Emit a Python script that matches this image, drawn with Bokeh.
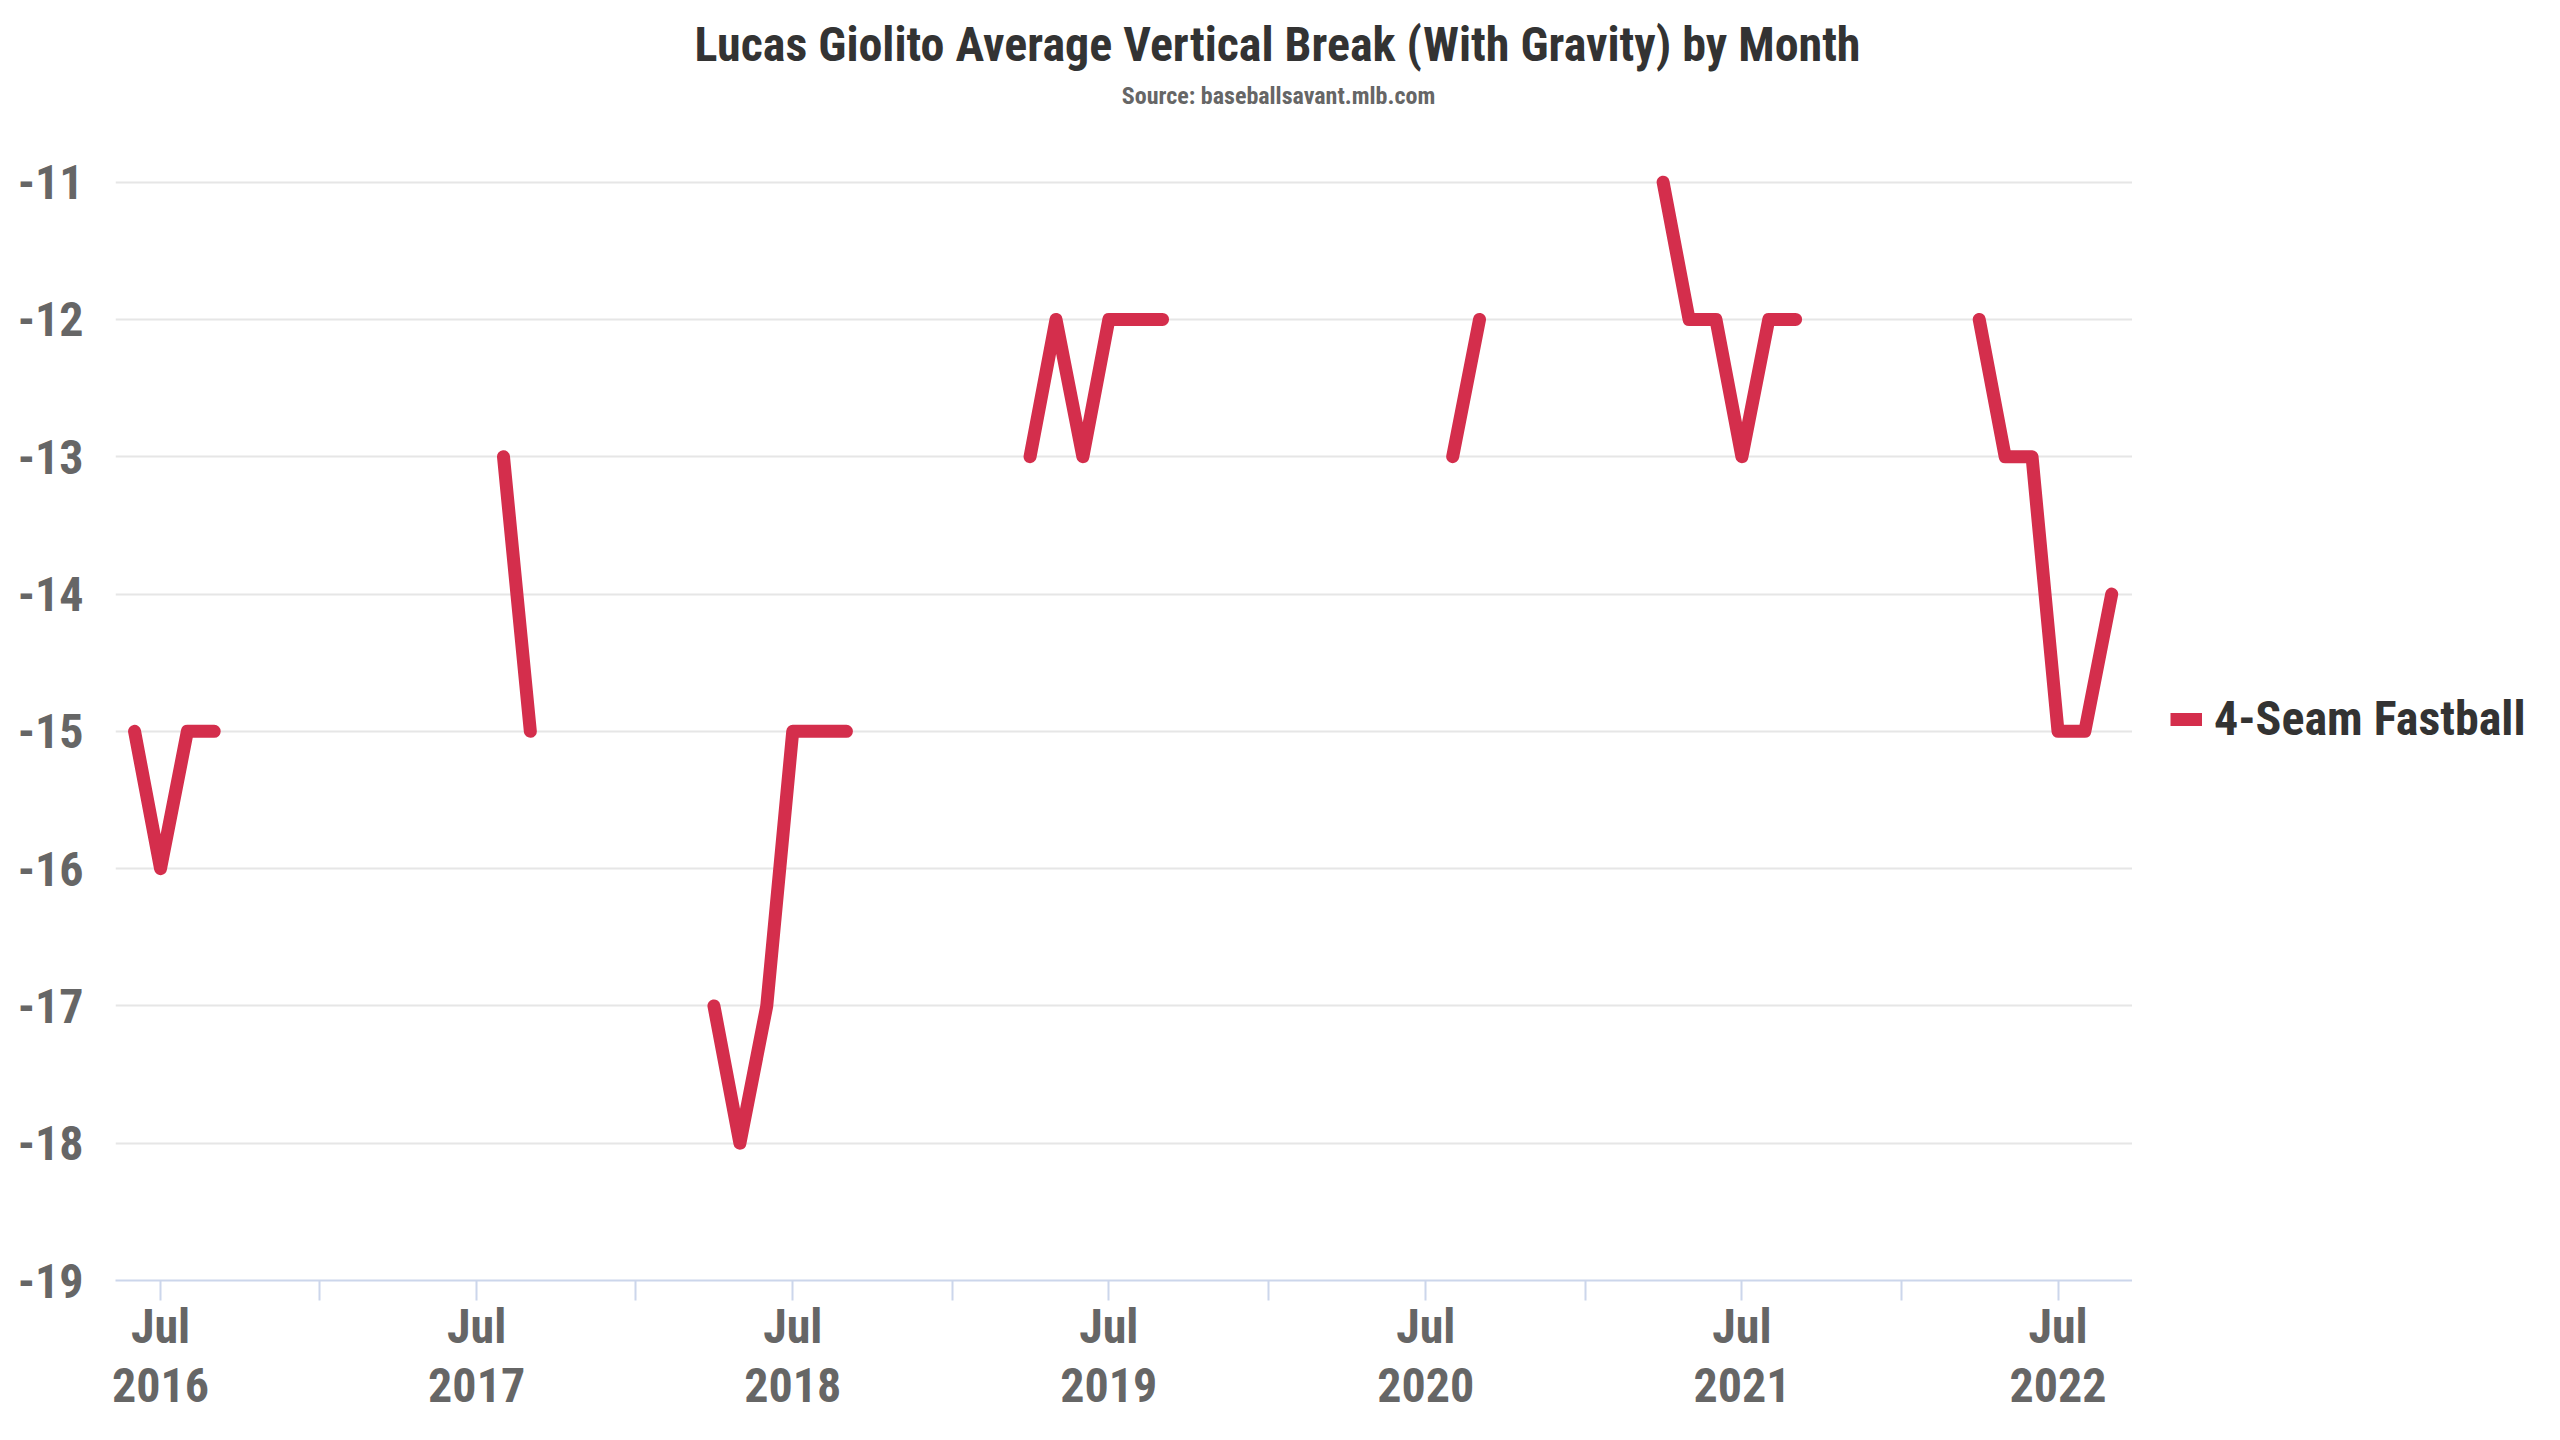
from datetime import datetime

from bokeh.plotting import figure
from bokeh.layouts import row
from bokeh.models import (ColumnDataSource, Range1d, FixedTicker, Label, Legend,
                          LegendItem, DatetimeAxis)
from bokeh.embed import file_html
from bokeh.resources import INLINE

# ---------------- data ----------------
TITLE = "Lucas Giolito Average Vertical Break (With Gravity) by Month"
SUBTITLE = "Source: baseballsavant.mlb.com"
SERIES_NAME = "4-Seam Fastball"

months_2016 = ["2016-06", "2016-07", "2016-08", "2016-09"]
vb_2016 = [-15, -16, -15, -15]
months_2017 = ["2017-08", "2017-09"]
vb_2017 = [-13, -15]
months_2018 = ["2018-04", "2018-05", "2018-06", "2018-07", "2018-08", "2018-09"]
vb_2018 = [-17, -18, -17, -15, -15, -15]
months_2019 = ["2019-04", "2019-05", "2019-06", "2019-07", "2019-08", "2019-09"]
vb_2019 = [-13, -12, -13, -12, -12, -12]
months_2020 = ["2020-08", "2020-09"]
vb_2020 = [-13, -12]
months_2021 = ["2021-04", "2021-05", "2021-06", "2021-07", "2021-08", "2021-09"]
vb_2021 = [-11, -12, -12, -13, -12, -12]
months_2022 = ["2022-04", "2022-05", "2022-06", "2022-07", "2022-08", "2022-09"]
vb_2022 = [-12, -13, -13, -15, -15, -14]

seasons = [(months_2016, vb_2016), (months_2017, vb_2017), (months_2018, vb_2018),
           (months_2019, vb_2019), (months_2020, vb_2020), (months_2021, vb_2021),
           (months_2022, vb_2022)]

tick_years = [2016, 2017, 2018, 2019, 2020, 2021, 2022]
tick_month_label = "Jul"
y_ticks = [-19, -18, -17, -16, -15, -14, -13, -12, -11]

# ---------------- helpers ----------------
EPOCH = datetime(1970, 1, 1)


def ms(d):
    return (d - EPOCH).total_seconds() * 1000.0


def month_ms(s):
    y, m = s.split("-")
    return ms(datetime(int(y), int(m), 1))


xs, ys = [], []
for months, vals in seasons:
    if xs:
        xs.append(float("nan"))
        ys.append(float("nan"))
    xs.extend(month_ms(m) for m in months)
    ys.extend(float(v) for v in vals)

source = ColumnDataSource(data=dict(x=xs, y=ys))

FONT = "Roboto Condensed, Liberation Sans Narrow, Roboto"
LINE_COLOR = "#d42e4c"
LABEL_GREY = "#666666"
TITLE_GREY = "#333333"
AXIS_BLUE = "#ccd6eb"

H = 1424
MAIN_W = 2132
LEGEND_W = 2544 - MAIN_W

# ---------------- main chart ----------------
p = figure(width=MAIN_W, height=H, x_axis_type="datetime",
           x_range=Range1d(ms(datetime(2016, 5, 10)), ms(datetime(2022, 9, 25))),
           y_range=Range1d(-19, -9.677),
           output_backend="svg", toolbar_location=None, title=None,
           min_border_left=115, min_border_right=0,
           min_border_bottom=144, min_border_top=0)

p.outline_line_color = None
p.background_fill_color = "white"
p.border_fill_color = "white"

r = p.line("x", "y", source=source, line_color=LINE_COLOR, line_width=13,
           line_cap="round", line_join="round")

# title and subtitle, centred on the page
main_title = Label(x=1162, y=1236, x_units="screen", y_units="screen", text=TITLE,
                   text_align="center", text_baseline="middle",
                   text_font=FONT, text_font_size="48px", text_font_style="bold",
                   text_color=TITLE_GREY)
sub_title = Label(x=1163, y=1185, x_units="screen", y_units="screen", text=SUBTITLE,
                  text_align="center", text_baseline="middle",
                  text_font=FONT, text_font_size="24px", text_font_style="bold",
                  text_color=LABEL_GREY)
p.add_layout(main_title)
p.add_layout(sub_title)

# x axis: "Jul" row with ticks, plus a second row with the years
jul_ticks = [ms(datetime(y, 7, 1)) for y in tick_years]
jan_ticks = [ms(datetime(y, 1, 1)) for y in tick_years[1:]]
all_ticks = sorted(jul_ticks + jan_ticks)

month_over = {t: tick_month_label for t in jul_ticks}
month_over.update({t: "" for t in jan_ticks})
year_over = {t: str(y) for y, t in zip(tick_years, jul_ticks)}
year_over.update({t: "" for t in jan_ticks})

xa = p.xaxis[0]
xa.ticker = FixedTicker(ticks=all_ticks)
xa.major_label_overrides = month_over
xa.axis_line_color = AXIS_BLUE
xa.axis_line_width = 2
xa.major_tick_line_color = AXIS_BLUE
xa.major_tick_line_width = 2
xa.major_tick_in = 0
xa.major_tick_out = 20
xa.minor_tick_line_color = None
xa.major_label_text_font = FONT
xa.major_label_text_font_size = "48px"
xa.major_label_text_font_style = "bold"
xa.major_label_text_color = LABEL_GREY
xa.major_label_standoff = -3

xa2 = DatetimeAxis(ticker=FixedTicker(ticks=all_ticks),
                   major_label_overrides=year_over,
                   axis_line_color=None, major_tick_line_color=None,
                   minor_tick_line_color=None, major_tick_in=0, major_tick_out=0,
                   major_label_text_font=FONT, major_label_text_font_size="48px",
                   major_label_text_font_style="bold",
                   major_label_text_color=LABEL_GREY, major_label_standoff=10)
p.add_layout(xa2, "below")

# y axis
p.yaxis.ticker = FixedTicker(ticks=y_ticks)
p.yaxis.major_label_overrides = {float(v): "%d" % v for v in y_ticks}
p.yaxis.axis_line_color = None
p.yaxis.major_tick_line_color = None
p.yaxis.minor_tick_line_color = None
p.yaxis.major_label_text_font = FONT
p.yaxis.major_label_text_font_size = "48px"
p.yaxis.major_label_text_font_style = "bold"
p.yaxis.major_label_text_color = LABEL_GREY
p.yaxis.major_label_standoff = 26

p.xgrid.grid_line_color = None
p.ygrid.grid_line_color = "#e6e6e6"
p.ygrid.grid_line_width = 2

# ---------------- legend panel (right of the plot area) ----------------
q = figure(width=LEGEND_W, height=H, output_backend="svg", toolbar_location=None,
           x_axis_location=None, y_axis_location=None, title=None,
           min_border=0)
q.outline_line_color = None
q.grid.visible = False
q.background_fill_color = "white"
q.border_fill_color = "white"
# single-point line: draws nothing itself, provides the flat legend swatch
swatch = q.line(x=xs[:1], y=ys[:1], line_color=LINE_COLOR, line_width=13,
                line_cap="butt")

legend = Legend(items=[LegendItem(label=SERIES_NAME, renderers=[swatch])],
                location=(38, 533),
                label_text_font=FONT, label_text_font_size="48px",
                label_text_font_style="bold", label_text_color=TITLE_GREY,
                glyph_width=32, glyph_height=20, label_standoff=12,
                border_line_color=None, background_fill_alpha=0,
                padding=10, margin=0)
q.add_layout(legend, "center")

layout = row(p, q, spacing=0)
open("out.html", "w").write(file_html(layout, INLINE))
